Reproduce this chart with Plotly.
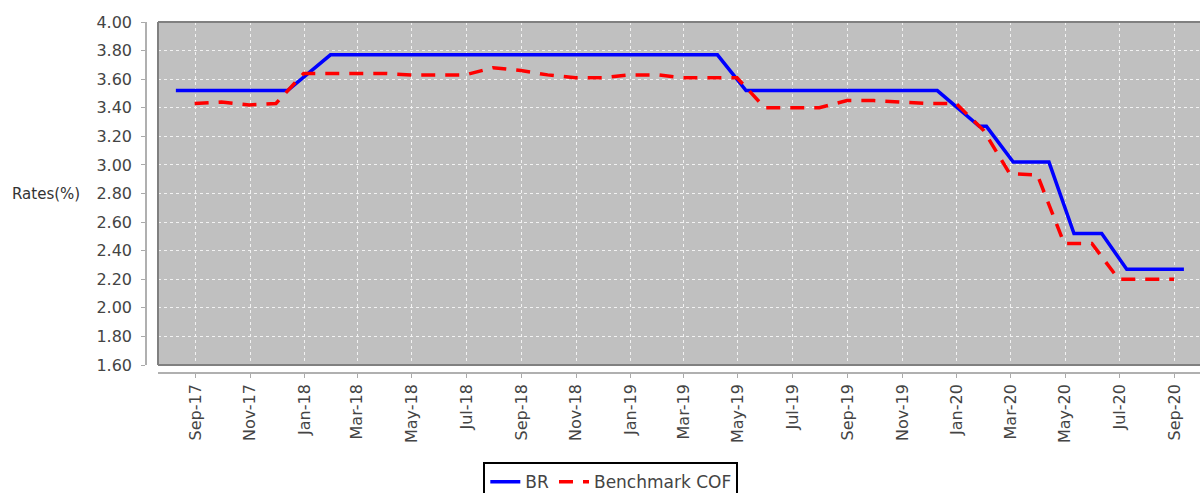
import plotly.graph_objects as go

# ---- data ----
br_dates = ["2017-08-10", "2017-12-13", "2018-01-30", "2019-04-08", "2019-05-10",
            "2019-12-10", "2020-01-26", "2020-02-03", "2020-03-04", "2020-04-13",
            "2020-05-11", "2020-06-11", "2020-07-09", "2020-09-11"]
br_values = [3.52, 3.52, 3.77, 3.77, 3.52,
             3.52, 3.27, 3.27, 3.02, 3.02,
             2.52, 2.52, 2.27, 2.27]

cof_dates = ["2017-08-31", "2017-09-30", "2017-10-31", "2017-11-30", "2017-12-31",
             "2018-01-31", "2018-02-28", "2018-03-31", "2018-04-30", "2018-05-31",
             "2018-06-30", "2018-07-31", "2018-08-31", "2018-09-30", "2018-10-31",
             "2018-11-30", "2018-12-31", "2019-01-31", "2019-02-28", "2019-03-31",
             "2019-04-30", "2019-05-31", "2019-06-30", "2019-07-31", "2019-08-31",
             "2019-09-30", "2019-10-31", "2019-11-30", "2019-12-31", "2020-01-31",
             "2020-02-29", "2020-03-31", "2020-04-30", "2020-05-31", "2020-06-30",
             "2020-07-31", "2020-08-31"]
cof_values = [3.43, 3.44, 3.42, 3.43, 3.64,
              3.64, 3.64, 3.64, 3.63, 3.63,
              3.63, 3.68, 3.66, 3.63, 3.61,
              3.61, 3.63, 3.63, 3.61, 3.61,
              3.61, 3.40, 3.40, 3.40, 3.45,
              3.45, 3.44, 3.43, 3.43, 3.24,
              2.94, 2.93, 2.45, 2.45, 2.20,
              2.20, 2.20]

FONT = "DejaVu Sans"

fig = go.Figure()
fig.add_trace(go.Scatter(x=br_dates, y=br_values, mode="lines", name="BR",
                         line=dict(color="#0000FF", width=3.5)))
fig.add_trace(go.Scatter(x=cof_dates, y=cof_values, mode="lines", name="Benchmark COF",
                         line=dict(color="#FF0000", width=3.5, dash="14px,10px")))

x_dom0 = 12 / 1054
y_dom0 = 8 / 351

fig.update_layout(
    width=1200, height=493,
    margin=dict(l=146, r=0, t=22, b=120, autoexpand=False),
    paper_bgcolor="white", plot_bgcolor="#C0C0C0",
    font=dict(family=FONT, color="#444444"),
    showlegend=True,
    legend=dict(orientation="h", x=0.441, xanchor="center", y=-0.254, yanchor="top",
                bordercolor="black", borderwidth=2, bgcolor="white",
                font=dict(family=FONT, size=17, color="#444444")),
    xaxis=dict(type="date", domain=[x_dom0, 1], anchor="free", position=0,
               automargin=False,
               range=["2017-07-21", "2020-09-29"],
               tick0="2017-09-01", dtick="M2", tickformat="%b-%y", tickangle=-90,
               ticks="outside", ticklen=4, tickcolor="#aaaaaa",
               showline=True, linecolor="#b0b0b0", linewidth=1.5,
               showgrid=True, gridcolor="#f2f2f2", griddash="3px,3px", gridwidth=1,
               zeroline=False, tickfont=dict(family=FONT, size=16, color="#444444")),
    yaxis=dict(domain=[y_dom0, 1], anchor="free", position=0,
               automargin=False,
               range=[1.6, 4.0], dtick=0.2, tick0=1.6, tickformat=".2f",
               ticks="outside", ticklen=4, tickcolor="#aaaaaa", ticklabelstandoff=6,
               showline=True, linecolor="#b0b0b0", linewidth=1.5,
               showgrid=True, gridcolor="#f2f2f2", griddash="3px,3px", gridwidth=1,
               zeroline=False, tickfont=dict(family=FONT, size=16, color="#444444")),
)

# plot-area border (top, left, bottom)
for x0, y0, x1, y1 in [(0, 1, 1, 1), (0, 0, 0, 1), (0, 0, 1, 0)]:
    fig.add_shape(type="line", xref="x domain", yref="y domain",
                  x0=x0, y0=y0, x1=x1, y1=y1,
                  line=dict(color="#808080", width=2), layer="above")

fig.add_annotation(text="Rates(%)", xref="paper", yref="paper",
                   x=(82 - 146) / 1054, y=(y_dom0 + 1) / 2,
                   xanchor="right", yanchor="middle", showarrow=False,
                   font=dict(family=FONT, size=15, color="#333333"))

fig.write_html("out.html", config={"displayModeBar": False},
               post_script="document.body.style.margin='0';document.body.style.overflow='hidden';")
